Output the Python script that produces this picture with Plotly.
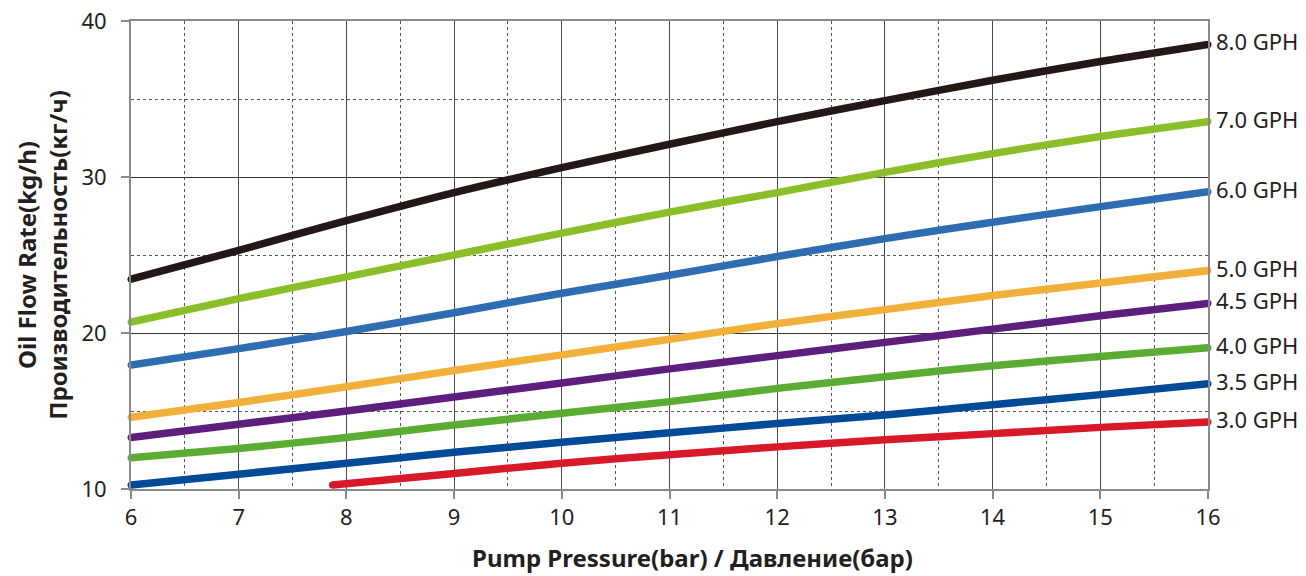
import plotly.graph_objects as go

# Pump pressure (bar) sample points and oil flow rate (kg/h) per nozzle size
pressure = [6, 7, 8, 9, 10, 11, 12, 13, 14, 15, 16]

series_names = ["8.0 GPH", "7.0 GPH", "6.0 GPH", "5.0 GPH", "4.5 GPH", "4.0 GPH", "3.5 GPH", "3.0 GPH"]

flow_80 = [23.45, 25.3, 27.2, 29.0, 30.6, 32.1, 33.55, 34.9, 36.2, 37.4, 38.5]
flow_70 = [20.7, 22.2, 23.6, 25.0, 26.4, 27.75, 29.0, 30.3, 31.5, 32.6, 33.55]
flow_60 = [17.95, 19.0, 20.1, 21.3, 22.55, 23.7, 24.9, 26.05, 27.1, 28.1, 29.05]
flow_50 = [14.6, 15.55, 16.55, 17.6, 18.6, 19.6, 20.6, 21.5, 22.4, 23.2, 24.0]
flow_45 = [13.3, 14.15, 15.0, 15.9, 16.8, 17.7, 18.55, 19.4, 20.25, 21.1, 21.9]
flow_40 = [12.0, 12.6, 13.3, 14.1, 14.85, 15.6, 16.45, 17.2, 17.9, 18.5, 19.05]
flow_35 = [10.25, 10.95, 11.65, 12.35, 13.0, 13.6, 14.2, 14.75, 15.4, 16.05, 16.75]

# The 3.0 GPH curve starts just below 8 bar
pressure_30 = [7.87, 9, 10, 11, 12, 13, 14, 15, 16]
flow_30 = [10.25, 11.0, 11.65, 12.2, 12.7, 13.15, 13.55, 13.95, 14.3]

colors = ["#231815", "#8cbe29", "#2f6db3", "#f0b03a", "#5c1f7d", "#5aac33", "#004a98", "#d8192a"]

curves = [
    (pressure, flow_80),
    (pressure, flow_70),
    (pressure, flow_60),
    (pressure, flow_50),
    (pressure, flow_45),
    (pressure, flow_40),
    (pressure, flow_35),
    (pressure_30, flow_30),
]

FONT = "Noto Sans"
TEXT = "#231f20"
LW = 7.5

fig = go.Figure()
for name, (xs, ys), col in zip(series_names, curves, colors):
    fig.add_trace(go.Scatter(
        x=xs, y=ys, mode="lines", name=name,
        line=dict(color=col, width=LW, shape="spline", smoothing=0.8),
        hoverinfo="skip", showlegend=False,
    ))
    # round end caps
    fig.add_trace(go.Scatter(
        x=[xs[0], xs[-1]], y=[ys[0], ys[-1]], mode="markers",
        marker=dict(color=col, size=LW - 0.5, line=dict(width=0)),
        hoverinfo="skip", showlegend=False, cliponaxis=False,
    ))
    fig.add_annotation(
        x=xs[-1], y=ys[-1], xref="x", yref="y", text=name,
        showarrow=False, xanchor="left", yanchor="middle", xshift=6, yshift=3,
        font=dict(family=FONT, size=22, color=TEXT),
    )

# x-axis title
fig.add_annotation(
    x=0.521, y=-0.106, xref="paper", yref="paper", yanchor="top",
    text="<b>Pump Pressure(bar) / Давление(бар)</b>", showarrow=False,
    font=dict(family=FONT, size=24, color=TEXT),
)

fig.update_xaxes(
    range=[6, 16], dtick=1, tick0=6, automargin=False,
    showgrid=True, gridcolor="#4a4a4a", gridwidth=1,
    minor=dict(dtick=0.5, tick0=6, showgrid=True, gridcolor="#555555", griddash="dot", gridwidth=1),
    showline=True, linecolor="#8a8a8a", linewidth=2, mirror=True,
    ticks="outside", ticklen=8, tickcolor="#8a8a8a", tickwidth=1.5,
    tickfont=dict(family=FONT, size=22, color=TEXT),
    zeroline=False,
)
fig.update_yaxes(
    range=[10, 40], dtick=10, tick0=10, automargin=False,
    showgrid=True, gridcolor="#333333", gridwidth=1,
    minor=dict(dtick=5, tick0=10, showgrid=True, gridcolor="#555555", griddash="dot", gridwidth=1),
    showline=True, linecolor="#8a8a8a", linewidth=2, mirror=True,
    ticks="outside", ticklen=8, tickcolor="#8a8a8a", tickwidth=1.5,
    ticklabelstandoff=10,
    tickfont=dict(family=FONT, size=22, color=TEXT),
    title=dict(text="<b>Oil Flow Rate(kg/h)<br>Производительность(кг/ч)</b>",
               font=dict(family=FONT, size=24, color=TEXT), standoff=7),
    zeroline=False,
)

fig.update_layout(
    width=1306, height=576,
    margin=dict(l=131, r=98, t=21, b=87),
    paper_bgcolor="white", plot_bgcolor="white",
)

fig.write_html("out.html")
